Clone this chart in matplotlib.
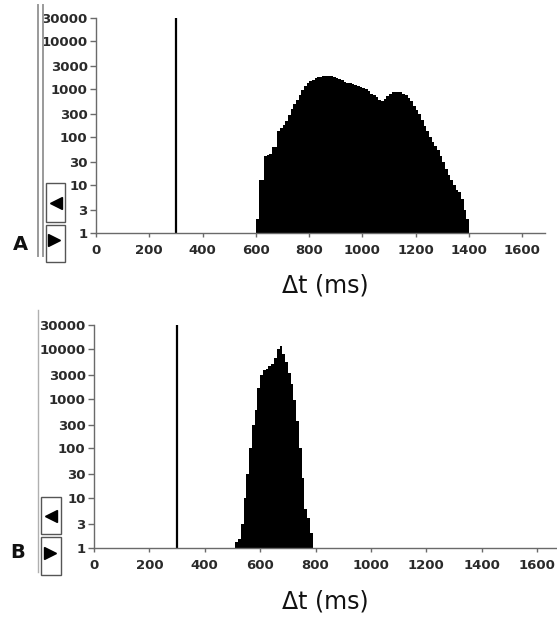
import numpy as np
import matplotlib
matplotlib.use("Agg")
import matplotlib.pyplot as plt
from matplotlib.lines import Line2D
from matplotlib.patches import Rectangle

# ---------------- data ----------------
bin_width = 10
a_start = 600
a_counts = [2, 13, 13, 40, 42, 45, 62, 62, 130, 150,
            180, 220, 280, 380, 480, 600, 750, 950, 1150, 1300,
            1450, 1550, 1650, 1750, 1800, 1850, 1900, 1900, 1850, 1800,
            1700, 1600, 1500, 1400, 1350, 1300, 1250, 1200, 1150, 1100,
            1050, 1000, 900, 800, 750, 680, 600, 560, 620, 720,
            800, 860, 880, 870, 850, 800, 740, 650, 550, 450,
            365, 300, 230, 170, 130, 100, 80, 65, 54, 40,
            30, 22, 16, 13, 10, 8, 7, 5, 3, 2]
b_start = 510
b_counts = [1.3, 1.5, 3, 10, 30, 100, 300, 600, 1600, 3000,
            3800, 4000, 4500, 5000, 6500, 10000, 11500, 8000, 5500, 3300,
            2000, 940, 350, 100, 25, 6, 4, 2]
marker_time = 300
y_ticks = [1, 3, 10, 30, 100, 300, 1000, 3000, 10000, 30000]
x_ticks = [0, 200, 400, 600, 800, 1000, 1200, 1400, 1600]
x_label = "Δt (ms)"

W, H = 557, 623
fig = plt.figure(figsize=(W / 100, H / 100), dpi=100)


def fx(x):
    return x / W


def fy(y):
    return 1 - y / H


def panel(left, right, top, bottom, xmax, start, counts, letter, letter_xy, label_y):
    ax = fig.add_axes([fx(left), fy(bottom), fx(right - left), (bottom - top) / H])
    edges = start + bin_width * np.arange(len(counts) + 1)
    ax.stairs(counts, edges, fill=True, baseline=1, color="black")
    ax.vlines(marker_time, 1, 30000, color="black", lw=1.6)
    ax.set_yscale("log")
    ax.set_ylim(1, 30000)
    ax.set_xlim(0, xmax)
    ax.set_yticks(y_ticks)
    ax.set_yticklabels([str(v) for v in y_ticks])
    ax.yaxis.set_minor_locator(matplotlib.ticker.NullLocator())
    ax.set_xticks(x_ticks)
    ax.set_xticklabels([str(v) for v in x_ticks])
    for s in ["top", "right"]:
        ax.spines[s].set_visible(False)
    for s in ["left", "bottom"]:
        ax.spines[s].set_color("#6a6a6a")
        ax.spines[s].set_linewidth(1.0)
    ax.tick_params(axis="both", colors="#6a6a6a", labelcolor="#2a2a2a",
                   length=4, width=1.0, pad=2)
    ax.tick_params(axis="x", pad=5, length=3)
    for lab in ax.get_xticklabels() + ax.get_yticklabels():
        lab.set_fontweight("bold")
        lab.set_fontsize(9.5)
        lab.set_family("DejaVu Sans")
    ax.patch.set_alpha(0)
    fig.text(fx(letter_xy[0]), fy(letter_xy[1]), letter, fontsize=14,
             fontweight="bold", ha="center", va="center", color="#111111")
    fig.text(fx(325), fy(label_y), x_label, fontsize=17, ha="center",
             va="center", color="#111111")
    return ax


panel(96, 545, 18, 233, 1685, a_start, a_counts, "A", (20, 244), 285)
panel(94, 557, 325, 548, 1672, b_start, b_counts, "B", (18, 553), 601)

# scroll-bar decorations
def vline(x, y0, y1, color, lw):
    fig.add_artist(Line2D([fx(x), fx(x)], [fy(y0), fy(y1)], color=color,
                          lw=lw, transform=fig.transFigure))


def box(x0, y0, x1, y1):
    fig.add_artist(Rectangle((fx(x0), fy(y1)), fx(x1 - x0), (y1 - y0) / H,
                             fill=False, ec="#555555", lw=1.0,
                             transform=fig.transFigure))


def tri(x, y, m):
    fig.add_artist(Line2D([fx(x)], [fy(y)], marker=m, ms=9, color="black",
                          mec="black", ls="none", transform=fig.transFigure))


vline(38, 5, 256, "#9a9a9a", 1.4)
vline(43, 5, 256, "#9a9a9a", 1.4)
box(46, 183, 65, 222)
box(46, 225, 65, 262)
tri(56, 203, "<")
tri(54, 240, ">")

vline(38, 310, 572, "#b0b0b0", 1.0)
box(41, 497, 61, 534)
box(41, 537, 61, 575)
tri(51, 516, "<")
tri(50, 553, ">")

fig.savefig("out.png", dpi=100, facecolor="white")
